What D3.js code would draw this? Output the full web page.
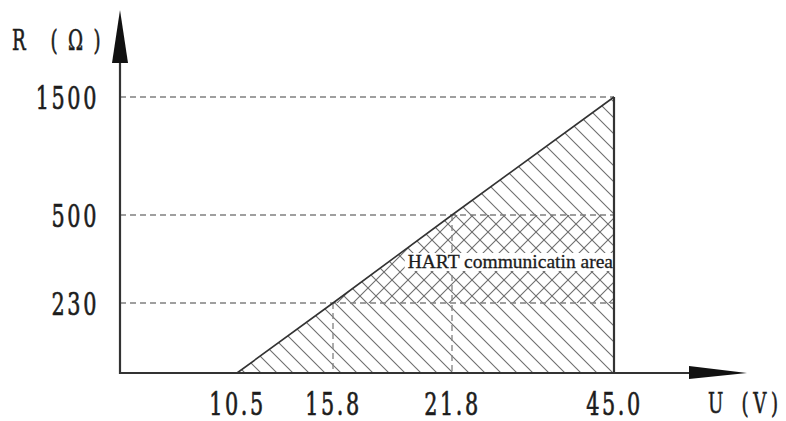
<!DOCTYPE html>
<html>
<head>
<meta charset="utf-8">
<script src="https://cdn.jsdelivr.net/npm/d3@7"></script>
<style>
  html, body { margin: 0; padding: 0; background: #fff; }
  svg { display: block; }
</style>
</head>
<body>
<svg id="chart" width="786" height="421"></svg>
<script>
// ---- data ----
const uTicks = [10.5, 15.8, 21.8, 45.0];
const uLabels = ["10.5", "15.8", "21.8", "45.0"];
const rTicks = [230, 500, 1500];
const rLabels = ["230", "500", "1500"];
const loadLineU = [10.5, 15.8, 21.8, 45.0];
const loadLineR = [0, 230, 500, 1500];
const hartBandR = [230, 500];
const hartLabel = "HART communicatin area";
const yTitle = ["R", "(Ω)"];
const xTitle = ["U", "(V)"];

// ---- layout ----
const SX = 0.65;           // horizontal squeeze of the narrow label font
const FONT = "'DejaVu Serif', serif";
const INK = "#1c1c1c";
const AX = "#333";

const svg = d3.select("#chart");

// the original diagram is not drawn to scale: piecewise-linear scales
const x = d3.scaleLinear().domain([0, 10.5, 15.8, 21.8, 45.0]).range([120, 237, 333, 452, 614]);
const y = d3.scaleLinear().domain([0, 230, 500, 1500]).range([373, 303, 215, 97]);

const pts = loadLineU.map((u, i) => ({u, r: loadLineR[i]}));
const region = pts.concat([{u: d3.max(loadLineU), r: 0}]);

// ---- patterns ----
const defs = svg.append("defs");
const P = 16;
defs.append("pattern").attr("id", "hatchB").attr("patternUnits", "userSpaceOnUse")
  .attr("width", P).attr("height", P)
  .append("path").attr("d", `M0,0L${P},${P}M${-P/4},${3*P/4}L${P/4},${5*P/4}M${3*P/4},${-P/4}L${5*P/4},${P/4}`)
  .attr("stroke", "#6e6e6e").attr("stroke-width", 1.1);
defs.append("pattern").attr("id", "hatchF").attr("patternUnits", "userSpaceOnUse")
  .attr("width", P).attr("height", P)
  .append("path").attr("d", `M0,${P}L${P},0M${-P/4},${P/4}L${P/4},${-P/4}M${3*P/4},${5*P/4}L${5*P/4},${3*P/4}`)
  .attr("stroke", "#6e6e6e").attr("stroke-width", 1.1);

const area = d3.line().x(d => x(d.u)).y(d => y(d.r));
defs.append("clipPath").attr("id", "tri").append("path").attr("d", area(region) + "Z");

// hatched working region
svg.append("path").attr("d", area(region) + "Z").attr("fill", "url(#hatchB)");
// HART band cross-hatch
svg.append("rect")
  .attr("x", x(0)).attr("width", x(45.0) - x(0))
  .attr("y", y(hartBandR[1])).attr("height", y(hartBandR[0]) - y(hartBandR[1]))
  .attr("fill", "url(#hatchF)").attr("clip-path", "url(#tri)");

// dashed reference lines
const dash = {stroke: "#808080", "stroke-width": 1.3, "stroke-dasharray": "6,4"};
const hl = svg.append("g").selectAll("line").data(rTicks).join("line")
  .attr("x1", x(0)).attr("x2", x(45.0)).attr("y1", d => y(d)).attr("y2", d => y(d));
const vl = svg.append("g").selectAll("line").data(pts.filter(d => d.r > 0 && d.u < 45)).join("line")
  .attr("x1", d => x(d.u)).attr("x2", d => x(d.u)).attr("y1", d => y(d.r)).attr("y2", y(0));
[hl, vl].forEach(s => Object.entries(dash).forEach(([k, v]) => s.attr(k, v)));

// HART label
const lbl = svg.append("text")
  .attr("x", x(45.0) - 1).attr("y", (y(hartBandR[0]) + y(hartBandR[1])) / 2 + 9)
  .attr("text-anchor", "end")
  .attr("font-family", "'Liberation Serif', 'Times New Roman', serif")
  .attr("font-size", 19.5).attr("fill", INK)
  .attr("stroke", INK).attr("stroke-width", 0.3)
  .text(hartLabel);
const bb = lbl.node().getBBox();
svg.insert("rect", () => lbl.node())
  .attr("x", bb.x - 3).attr("y", bb.y + 2).attr("width", bb.width + 3).attr("height", bb.height - 3)
  .attr("fill", "#fff");

// load line and right border
svg.append("path").attr("d", area(pts)).attr("fill", "none").attr("stroke", AX).attr("stroke-width", 1.6);
svg.append("line").attr("x1", x(45.0)).attr("x2", x(45.0)).attr("y1", y(1500)).attr("y2", y(0))
  .attr("stroke", AX).attr("stroke-width", 2.2);

// axes lines with arrows
svg.append("line").attr("x1", x(0)).attr("x2", x(0)).attr("y1", y(0) + 1).attr("y2", 60)
  .attr("stroke", AX).attr("stroke-width", 2.2);
svg.append("path").attr("d", `M${x(0)},10L${x(0) - 8},63L${x(0) + 8},63Z`).attr("fill", "#111");
svg.append("line").attr("x1", x(0) - 1).attr("x2", 692).attr("y1", y(0)).attr("y2", y(0))
  .attr("stroke", AX).attr("stroke-width", 2.2);
svg.append("path").attr("d", `M747,${y(0)}L689,${y(0) - 7}L689,${y(0) + 6}Z`).attr("fill", "#111");

// tick labels via d3 axes
const yAxis = svg.append("g").attr("transform", `translate(${x(0)},0)`)
  .call(d3.axisLeft(y).tickValues(rTicks).tickSize(0).tickFormat((d, i) => rLabels[i]));
const xAxis = svg.append("g").attr("transform", `translate(0,${y(0)})`)
  .call(d3.axisBottom(x).tickValues(uTicks).tickSize(0).tickFormat((d, i) => uLabels[i]));
[yAxis, xAxis].forEach(a => {
  a.select(".domain").remove();
  a.attr("font-family", null).attr("font-size", null);
  a.selectAll("text").attr("font-family", FONT).attr("font-size", 32).attr("fill", INK)
    .attr("stroke", INK).attr("stroke-width", 0.7)
    .attr("letter-spacing", 4);
});
yAxis.selectAll("text").attr("x", null).attr("dy", "0.36em")
  .attr("transform", `translate(-21,0) scale(${SX},1)`);
xAxis.selectAll("text").attr("y", null).attr("dy", null)
  .attr("transform", `translate(0,42) scale(${SX},1)`);

// axis titles
function title(parts, tx, ty, size, gap, ls) {
  const t = svg.append("text")
    .attr("transform", `translate(${tx},${ty}) scale(${SX},1)`)
    .attr("font-family", FONT).attr("font-size", size).attr("fill", INK)
    .attr("stroke", INK).attr("stroke-width", 0.6);
  t.append("tspan").text(parts[0]);
  t.append("tspan").attr("dx", gap).attr("letter-spacing", ls).text(parts[1]);
}
title(yTitle, 12, 50, 28, 38, 16);
title(xTitle, 708, 413, 28, 28, 7);
</script>
</body>
</html>
